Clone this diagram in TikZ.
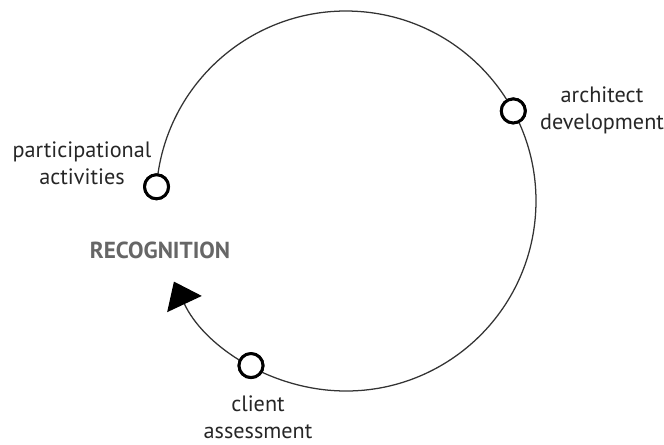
\documentclass[tikz,border=0pt]{standalone}
\usepackage{fontspec}
\setmainfont{PT Sans}
\usetikzlibrary{arrows.meta}

\tikzset{
    stage/.style={circle, draw, line width=2.1pt, fill=white, minimum size=0.6cm, inner sep=0pt},
    stagelabel/.style={align=center, font=\fontsize{15.8}{19}\selectfont, text=black!85}
}

\begin{document}
\begin{tikzpicture}
    \useasboundingbox (-8.65,-6.075) rectangle (7.95,5.025);

    % Stages on the cycle
    \node[stage] (part) at (175.7:4.75) {};
    \node[stage] (arch) at (28.3:4.75) {};
    \node[stage] (client) at (240:4.75) {};

    % Cycle
    \draw[black!80, line width=0.9pt, -{Triangle[width=0.95cm, length=0.62cm, color=black]}]
        (part.center) arc[start angle=175.7, end angle=-154.9, radius=4.75];
    \node[stage] at (part) {};
    \node[stage] at (arch) {};
    \node[stage] at (client) {};

    % Labels
    \node[stagelabel] (partlabel) at (-6.6,0.95) {participational\\activities};
    \node[stagelabel] (archlabel) at (6.4,2.275) {architect\\development};
    \node[stagelabel] (clientlabel) at (-2.2,-5.4) {client\\assessment};
    \node[font=\bfseries\fontsize{16.5}{19}\selectfont, text=black!60] (recog) at (-4.65,-1.225) {RECOGNITION};
\end{tikzpicture}
\end{document}
